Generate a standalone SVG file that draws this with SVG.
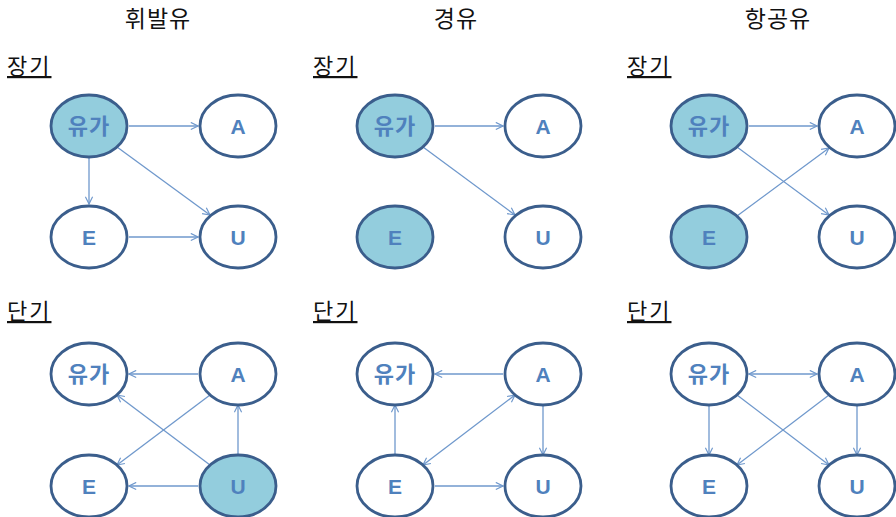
<svg xmlns="http://www.w3.org/2000/svg" width="896" height="517" viewBox="0 0 896 517">
<defs>
<marker id="ah" viewBox="0 0 10 10" refX="9" refY="5" markerWidth="9" markerHeight="9" markerUnits="userSpaceOnUse" orient="auto-start-reverse">
<path d="M1,1 L9,5 L1,9" fill="none" stroke="#6F98CC" stroke-width="1.3"/>
</marker>
</defs>
<style>
.t{font-family:"Noto Sans CJK KR","Noto Sans",sans-serif;font-size:23px;letter-spacing:1px;fill:#111}
.s{font-family:"Noto Sans CJK KR","Noto Sans",sans-serif;font-size:22px;letter-spacing:2px;fill:#111;text-decoration:underline}
.n{fill:#fff;stroke:#3B5E8C;stroke-width:2.8}
.f{fill:#93CDDD}
.k{font-family:"Noto Sans CJK KR","Noto Sans",sans-serif;font-size:22px;font-weight:bold;letter-spacing:1px;fill:#4F81BD;text-anchor:middle}
.l{font-family:"Liberation Sans",Arial,sans-serif;font-size:21px;font-weight:bold;fill:#4F81BD;text-anchor:middle}
.c line{stroke:#6F98CC;stroke-width:1.3;marker-end:url(#ah)}
.c line.b{marker-start:url(#ah)}
</style>
<text class="t" x="158" y="27" text-anchor="middle">휘발유</text>
<text class="t" x="456" y="27" text-anchor="middle">경유</text>
<text class="t" x="778" y="27" text-anchor="middle">항공유</text>
<text class="s" x="7" y="74">장기</text>
<text class="s" x="313" y="74">장기</text>
<text class="s" x="627" y="74">장기</text>
<text class="s" x="7" y="319">단기</text>
<text class="s" x="313" y="319">단기</text>
<text class="s" x="627" y="319">단기</text>
<g class="c" id="connectors">
<line x1="129" y1="126" x2="198" y2="126"/>
<line x1="89" y1="158" x2="89" y2="204"/>
<line x1="117" y1="147" x2="210" y2="215"/>
<line x1="129" y1="237" x2="198" y2="237"/>
<line x1="198" y1="374" x2="129" y2="374"/>
<line x1="210" y1="465" x2="117" y2="395"/>
<line x1="210" y1="395" x2="117" y2="465"/>
<line x1="238" y1="455" x2="238" y2="405"/>
<line x1="198" y1="486" x2="129" y2="486"/>
<line x1="435" y1="126" x2="503" y2="126"/>
<line x1="423" y1="147" x2="515" y2="215"/>
<line x1="503" y1="374" x2="435" y2="374"/>
<line x1="395" y1="455" x2="395" y2="405"/>
<line class="b" x1="515" y1="395" x2="423" y2="465"/>
<line x1="543" y1="405" x2="543" y2="455"/>
<line x1="435" y1="486" x2="503" y2="486"/>
<line x1="749" y1="126" x2="817" y2="126"/>
<line x1="737" y1="147" x2="829" y2="215"/>
<line x1="737" y1="216" x2="829" y2="148"/>
<line class="b" x1="749" y1="374" x2="817" y2="374"/>
<line x1="709" y1="405" x2="709" y2="455"/>
<line x1="737" y1="395" x2="829" y2="465"/>
<line x1="829" y1="395" x2="737" y2="465"/>
<line x1="857" y1="405" x2="857" y2="455"/>
</g>
<g id="p1-long-oil"><ellipse class="n f" cx="89" cy="126" rx="38" ry="31"/><text class="k" x="89" y="134">유가</text></g>
<g id="p1-long-A"><ellipse class="n" cx="238" cy="126" rx="38" ry="31"/><text class="l" x="238" y="133.5">A</text></g>
<g id="p1-long-E"><ellipse class="n" cx="89" cy="237" rx="38" ry="31"/><text class="l" x="89" y="244.5">E</text></g>
<g id="p1-long-U"><ellipse class="n" cx="238" cy="237" rx="38" ry="31"/><text class="l" x="238" y="244.5">U</text></g>
<g id="p1-short-oil"><ellipse class="n" cx="89" cy="374" rx="38" ry="31"/><text class="k" x="89" y="382">유가</text></g>
<g id="p1-short-A"><ellipse class="n" cx="238" cy="374" rx="38" ry="31"/><text class="l" x="238" y="381.5">A</text></g>
<g id="p1-short-E"><ellipse class="n" cx="89" cy="486" rx="38" ry="31"/><text class="l" x="89" y="493.5">E</text></g>
<g id="p1-short-U"><ellipse class="n f" cx="238" cy="486" rx="38" ry="31"/><text class="l" x="238" y="493.5">U</text></g>
<g id="p2-long-oil"><ellipse class="n f" cx="395" cy="126" rx="38" ry="31"/><text class="k" x="395" y="134">유가</text></g>
<g id="p2-long-A"><ellipse class="n" cx="543" cy="126" rx="38" ry="31"/><text class="l" x="543" y="133.5">A</text></g>
<g id="p2-long-E"><ellipse class="n f" cx="395" cy="237" rx="38" ry="31"/><text class="l" x="395" y="244.5">E</text></g>
<g id="p2-long-U"><ellipse class="n" cx="543" cy="237" rx="38" ry="31"/><text class="l" x="543" y="244.5">U</text></g>
<g id="p2-short-oil"><ellipse class="n" cx="395" cy="374" rx="38" ry="31"/><text class="k" x="395" y="382">유가</text></g>
<g id="p2-short-A"><ellipse class="n" cx="543" cy="374" rx="38" ry="31"/><text class="l" x="543" y="381.5">A</text></g>
<g id="p2-short-E"><ellipse class="n" cx="395" cy="486" rx="38" ry="31"/><text class="l" x="395" y="493.5">E</text></g>
<g id="p2-short-U"><ellipse class="n" cx="543" cy="486" rx="38" ry="31"/><text class="l" x="543" y="493.5">U</text></g>
<g id="p3-long-oil"><ellipse class="n f" cx="709" cy="126" rx="38" ry="31"/><text class="k" x="709" y="134">유가</text></g>
<g id="p3-long-A"><ellipse class="n" cx="857" cy="126" rx="38" ry="31"/><text class="l" x="857" y="133.5">A</text></g>
<g id="p3-long-E"><ellipse class="n f" cx="709" cy="237" rx="38" ry="31"/><text class="l" x="709" y="244.5">E</text></g>
<g id="p3-long-U"><ellipse class="n" cx="857" cy="237" rx="38" ry="31"/><text class="l" x="857" y="244.5">U</text></g>
<g id="p3-short-oil"><ellipse class="n" cx="709" cy="374" rx="38" ry="31"/><text class="k" x="709" y="382">유가</text></g>
<g id="p3-short-A"><ellipse class="n" cx="857" cy="374" rx="38" ry="31"/><text class="l" x="857" y="381.5">A</text></g>
<g id="p3-short-E"><ellipse class="n" cx="709" cy="486" rx="38" ry="31"/><text class="l" x="709" y="493.5">E</text></g>
<g id="p3-short-U"><ellipse class="n" cx="857" cy="486" rx="38" ry="31"/><text class="l" x="857" y="493.5">U</text></g>
</svg>
